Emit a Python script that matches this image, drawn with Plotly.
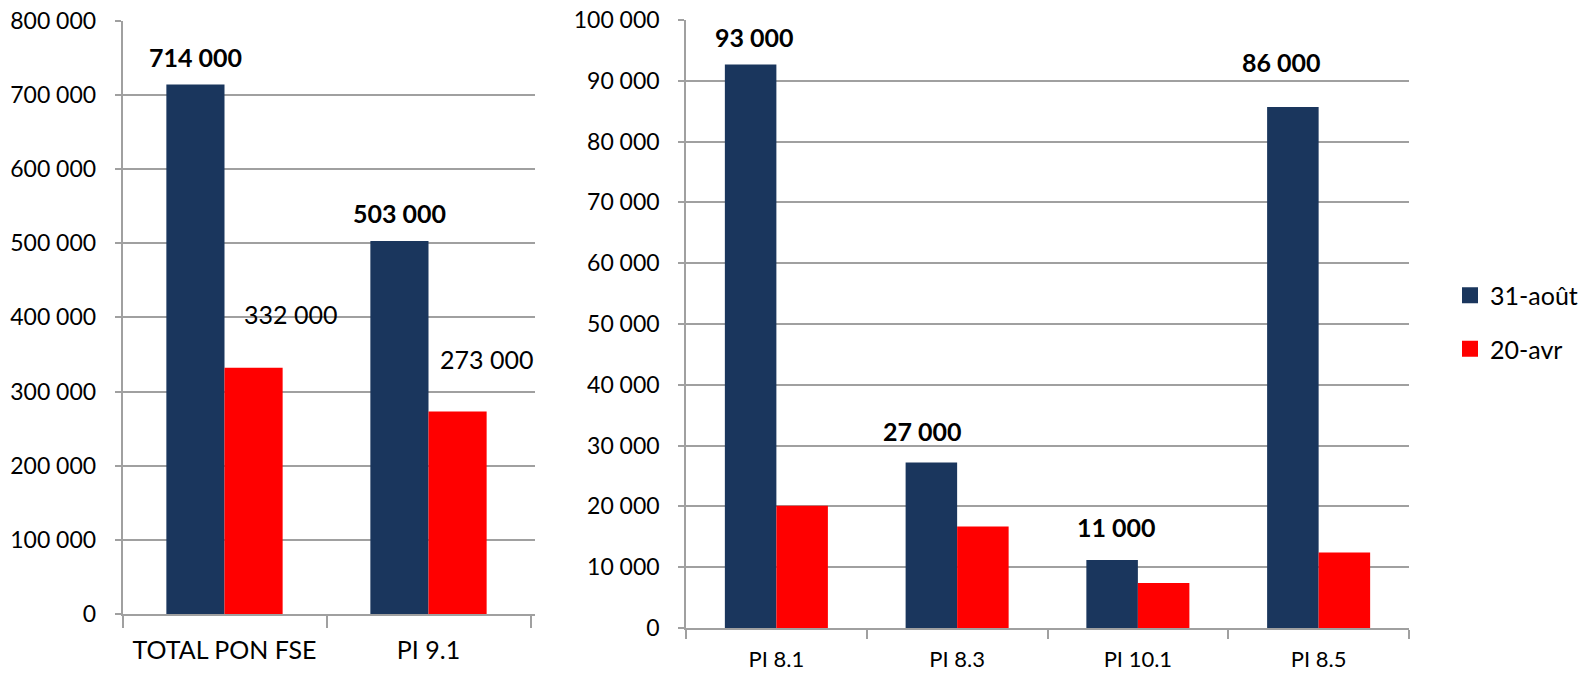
import plotly.graph_objects as go

# ---- data ----
left_categories = ["TOTAL PON FSE", "PI 9.1"]
left_aout = [714000, 503000]
left_avr = [332000, 273000]

right_categories = ["PI 8.1", "PI 8.3", "PI 10.1", "PI 8.5"]
right_aout = [92700, 27200, 11200, 85700]
right_avr = [20100, 16700, 7400, 12400]

aout_labels_left = ["714 000", "503 000"]
avr_labels_left = ["332 000", "273 000"]
aout_labels_right = ["93 000", "27 000", "11 000", "86 000"]

series_names = ["31-août", "20-avr"]

# ---- style ----
DARK = "#1A365D"
RED = "#FF0000"
GRID = "#A0A0A0"
FONT = "Lato"
W, H = 1583, 674

fig = go.Figure()

fig.add_trace(go.Bar(x=left_categories, y=left_aout, name=series_names[0],
                     marker=dict(color=DARK, line=dict(width=0)),
                     xaxis="x", yaxis="y", showlegend=False))
fig.add_trace(go.Bar(x=left_categories, y=left_avr, name=series_names[1],
                     marker=dict(color=RED, line=dict(width=0)),
                     xaxis="x", yaxis="y", showlegend=False))
fig.add_trace(go.Bar(x=right_categories, y=right_aout, name=series_names[0],
                     marker=dict(color=DARK, line=dict(width=0)),
                     xaxis="x2", yaxis="y2", showlegend=False))
fig.add_trace(go.Bar(x=right_categories, y=right_avr, name=series_names[1],
                     marker=dict(color=RED, line=dict(width=0)),
                     xaxis="x2", yaxis="y2", showlegend=False))
# legend entries with larger square swatches
for name, col, grp in zip(series_names, [DARK, RED], ["a", "b"]):
    fig.add_trace(go.Scatter(x=[None], y=[None], mode="markers", name=name,
                             marker=dict(symbol="square", size=19, color=col),
                             xaxis="x2", yaxis="y2", legendgroup=grp, showlegend=True))

annotations = []
lab_font = dict(size=25, color="black", family=FONT)
# left dark labels
left_bw = 59
left_dark_dy = [27, 28]
for c, v, t, dy in zip(left_categories, left_aout, aout_labels_left, left_dark_dy):
    annotations.append(dict(x=c, y=v, xref="x", yref="y", text="<b>%s</b>" % t,
                            showarrow=False, xshift=-left_bw / 2, yshift=dy,
                            yanchor="middle", font=lab_font))
# left red labels (manually placed in the original)
red_xshift = [66, 58]
red_yshift = [54, 53]
for c, v, t, xs, ys in zip(left_categories, left_avr, avr_labels_left, red_xshift, red_yshift):
    annotations.append(dict(x=c, y=v, xref="x", yref="y", text=t,
                            showarrow=False, xshift=xs, yshift=ys,
                            yanchor="middle", font=lab_font))
# right dark labels
r_xshift = [-21.5, -34.5, -21.5, -37.5]
r_yshift = [27, 32, 33, 45]
for c, v, t, xs, ys in zip(right_categories, right_aout, aout_labels_right, r_xshift, r_yshift):
    annotations.append(dict(x=c, y=v, xref="x2", yref="y2", text="<b>%s</b>" % t,
                            showarrow=False, xshift=xs, yshift=ys,
                            yanchor="middle", font=lab_font))

axis_common = dict(showline=True, linecolor=GRID, linewidth=1.5, automargin=False)

fig.update_layout(
    width=W, height=H,
    margin=dict(l=0, r=0, t=0, b=0, autoexpand=False),
    paper_bgcolor="white", plot_bgcolor="white",
    separators=", ",
    barmode="group",
    bargap=0.43,
    bargroupgap=0,
    font=dict(family=FONT, color="black"),
    showlegend=True,
    legend=dict(x=1.0, y=(H - 322) / H, xanchor="right", yanchor="middle",
                font=dict(size=25, family=FONT), itemsizing="trace", itemwidth=30,
                tracegroupgap=18, bgcolor="rgba(0,0,0,0)"),
    xaxis=dict(domain=[122.5 / W, 535 / W], anchor="y", type="category",
               tickson="boundaries", ticks="outside", ticklen=12, tickcolor=GRID,
               tickwidth=1.5, ticklabelstandoff=13, tickangle=0,
               tickfont=dict(size=25, family=FONT), showgrid=False, **axis_common),
    yaxis=dict(domain=[(H - 614) / H, (H - 20.7) / H], anchor="x", range=[0, 800000],
               dtick=100000, tickformat=",d", ticks="outside", ticklen=6,
               tickcolor=GRID, tickwidth=1.5, showgrid=True, gridcolor=GRID,
               gridwidth=1.5, tickfont=dict(size=23, family=FONT), zeroline=False,
               ticklabelstandoff=14, **axis_common),
    xaxis2=dict(domain=[686 / W, 1409 / W], anchor="y2", type="category",
                tickson="boundaries", ticks="outside", ticklen=9, tickcolor=GRID,
                tickwidth=1.5, ticklabelstandoff=11, tickangle=0,
                tickfont=dict(size=22, family=FONT), showgrid=False, **axis_common),
    yaxis2=dict(domain=[(H - 628) / H, (H - 20) / H], anchor="x2", range=[0, 100000],
                dtick=10000, tickformat=",d", ticks="outside", ticklen=6,
                tickcolor=GRID, tickwidth=1.5, showgrid=True, gridcolor=GRID,
                gridwidth=1.5, tickfont=dict(size=23, family=FONT), zeroline=False,
                ticklabelstandoff=14, **axis_common),
    annotations=annotations,
)

fig.write_html("out.html", config={"displayModeBar": False},
               post_script="document.body.style.margin='0';document.body.style.overflow='hidden';")
